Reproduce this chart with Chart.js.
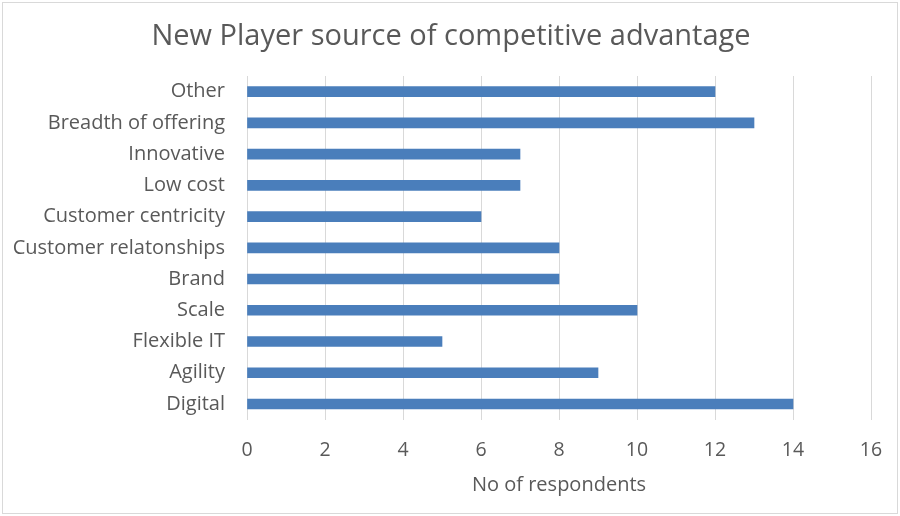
<!DOCTYPE html>
<html>
<head>
<meta charset="utf-8">
<script src="https://cdn.jsdelivr.net/npm/chart.js@4.4.1/dist/chart.umd.min.js"></script>
<style>
  html, body { margin: 0; padding: 0; background: #fff; }
  #wrap { width: 900px; height: 516px; }
</style>
</head>
<body>
<div id="wrap"><canvas id="advantage-chart"></canvas></div>
<script>
var categories = ['Other', 'Breadth of offering', 'Innovative', 'Low cost', 'Customer centricity',
    'Customer relatonships', 'Brand', 'Scale', 'Flexible IT', 'Agility', 'Digital'];
var respondents = [12, 13, 7, 7, 6, 8, 8, 10, 5, 9, 14];
var xTicks = [0, 2, 4, 6, 8, 10, 12, 14, 16];
var chartTitle = 'New Player source of competitive advantage';

var FONT = "'Open Sans', 'Liberation Sans', sans-serif";
var TEXT = '#595959';

// white background, thin frame, and the title centred on the whole canvas
var frame = {
    id: 'frame',
    beforeDraw: function(chart) {
        var c = chart.ctx;
        c.save();
        c.fillStyle = '#fff';
        c.fillRect(0, 0, chart.width, chart.height);
        c.strokeStyle = '#d9d9d9';
        c.lineWidth = 1;
        c.strokeRect(2.5, 2.5, chart.width - 5, chart.height - 5);
        c.fillStyle = TEXT;
        c.font = '29px ' + FONT;
        c.textAlign = 'center';
        c.textBaseline = 'middle';
        c.fillText(chartTitle, 451, 37);
        c.restore();
    }
};

var config = {
    type: 'bar',
    data: {
        labels: categories,
        datasets: [{
            data: respondents,
            backgroundColor: '#4a7ebb',
            borderColor: '#4a7ebb',
            barThickness: 10
        }]
    },
    options: {
        indexAxis: 'y',
        responsive: true,
        maintainAspectRatio: false,
        animation: false,
        layout: { padding: { left: 0, right: 29, top: 76, bottom: 19 } },
        plugins: {
            legend: { display: false },
            tooltip: { enabled: false },
            title: { display: false }
        },
        scales: {
            x: {
                min: 0,
                max: 16,
                afterBuildTicks: function(scale) {
                    scale.ticks = xTicks.map(function(v) { return { value: v }; });
                },
                afterFit: function(scale) { scale.paddingRight = 0; },
                grid: { color: '#d9d9d9', drawTicks: false },
                border: { display: false },
                ticks: { color: TEXT, font: { family: FONT, size: 19.5 }, padding: 19 },
                title: {
                    display: true,
                    text: 'No of respondents',
                    color: TEXT,
                    font: { family: FONT, size: 20 },
                    padding: { top: -8, bottom: 0 }
                }
            },
            y: {
                afterFit: function(scale) { scale.width = 247; },
                grid: { display: false, drawTicks: false },
                border: { display: true, color: '#d9d9d9' },
                ticks: { color: TEXT, font: { family: FONT, size: 20 }, padding: 22 }
            }
        }
    },
    plugins: [frame]
};

var ctx = document.getElementById('advantage-chart').getContext('2d');
window.advantageChart = new Chart(ctx, config);
</script>
</body>
</html>
